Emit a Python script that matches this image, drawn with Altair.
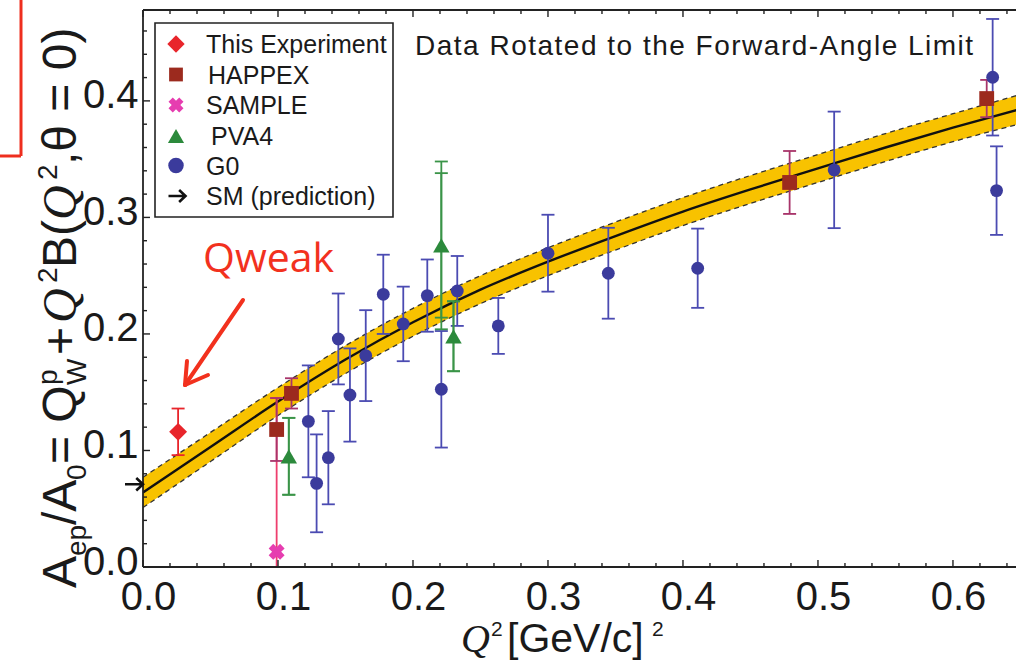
import altair as alt
import pandas as pd

# ---------------- data ----------------
qweak_x = [0.026]
qweak_y = [0.116]
qweak_err = [0.020]

happex_x = [0.099, 0.110, 0.479, 0.625]
happex_y = [0.118, 0.149, 0.330, 0.402]
happex_err = [0.027, 0.013, 0.027, 0.016]

sample_x = [0.099]
sample_y = [0.013]
sample_err = [0.132]

pva4_x = [0.108, 0.221, 0.230]
pva4_y = [0.095, 0.276, 0.198]
pva4_err = [0.033, 0.072, 0.030]
pva4_err_inner = [0.033, 0.062, 0.030]

g0_x = [0.1225, 0.1286, 0.1373, 0.1447, 0.1533, 0.165, 0.178, 0.1928, 0.2106,
        0.221, 0.2328, 0.2632, 0.300, 0.3447, 0.4109, 0.512, 0.6294, 0.6323]
g0_y = [0.125, 0.0718, 0.0938, 0.1957, 0.1476, 0.1814, 0.234, 0.2086, 0.2329,
        0.1525, 0.2369, 0.2069, 0.2693, 0.2521, 0.2564, 0.3408, 0.4203, 0.323]
g0_err = [0.048, 0.042, 0.040, 0.039, 0.040, 0.039, 0.034, 0.032, 0.031,
          0.050, 0.030, 0.024, 0.033, 0.039, 0.034, 0.050, 0.050, 0.038]

fit_x = [0.0, 0.05, 0.1, 0.15, 0.2, 0.25, 0.3, 0.35, 0.4, 0.45, 0.5, 0.55, 0.6, 0.65]
fit_y = [0.064, 0.103, 0.142, 0.178, 0.210, 0.238, 0.262, 0.284, 0.305, 0.324,
         0.342, 0.360, 0.377, 0.393]
fit_err = [0.013, 0.0125, 0.012, 0.012, 0.012, 0.012, 0.012, 0.012, 0.012,
           0.012, 0.012, 0.012, 0.012, 0.0125]

sm_value = [0.0710]

x_ticks = [0.0, 0.1, 0.2, 0.3, 0.4, 0.5, 0.6]
y_ticks = [0.0, 0.1, 0.2, 0.3, 0.4]
x_minor = [0.02, 0.04, 0.06, 0.08, 0.12, 0.14, 0.16, 0.18, 0.22, 0.24, 0.26, 0.28,
           0.32, 0.34, 0.36, 0.38, 0.42, 0.44, 0.46, 0.48, 0.52, 0.54, 0.56, 0.58,
           0.62, 0.64]
y_minor = [0.02, 0.04, 0.06, 0.08, 0.12, 0.14, 0.16, 0.18, 0.22, 0.24, 0.26, 0.28,
           0.32, 0.34, 0.36, 0.38, 0.42, 0.44, 0.46]

legend_labels = ["This Experiment", "HAPPEX", "SAMPLE", "PVA4", "G0", "SM (prediction)"]
plot_title = "Data Rotated to the Forward-Angle Limit"

# ---------------- layout ----------------
W, H = 873, 557
PL, PT = 143, 10
XMAX, YMAX = 0.6467, 0.478
FONT = "Liberation Sans"
SERIF = "Liberation Serif"
INK = "#1a1a1a"

xs = alt.Scale(domain=[0, XMAX], nice=False, zero=False)
ys = alt.Scale(domain=[0, YMAX], nice=False, zero=False)
xaxis = alt.Axis(values=x_ticks, format=".1f", labelFont=FONT, labelFontSize=40,
                 labelColor=INK, labelPadding=10, labelOffset=5, labelFlush=False,
                 labelOverlap=False, domain=False, ticks=False, tickSize=0,
                 grid=False, title=None)
yaxis = alt.Axis(values=y_ticks, format=".1f", labelFont=FONT, labelFontSize=40,
                 labelColor=INK, labelPadding=5, labelOffset=-5, labelFlush=False,
                 labelOverlap=False, domain=False, ticks=False, tickSize=0,
                 grid=False, title=None)


def X(f):
    return alt.X(f, type="quantitative", scale=xs, axis=xaxis)


def Y(f):
    return alt.Y(f, type="quantitative", scale=ys, axis=yaxis)


DUMMY = pd.DataFrame({"d": [0]})


def px(x):
    return alt.value(x - PL)


def py(y):
    return alt.value(y - PT)


layers = []

# ---- fit band ----
fit = pd.DataFrame({"x": fit_x, "y": fit_y,
                    "lo": [a - b for a, b in zip(fit_y, fit_err)],
                    "hi": [a + b for a, b in zip(fit_y, fit_err)]})
layers.append(alt.Chart(fit).mark_area(color="#F8C200", opacity=1, clip=True,
                                        interpolate="monotone")
              .encode(x=X("x"), y=Y("lo"), y2=alt.Y2("hi")))
for f in ["lo", "hi"]:
    layers.append(alt.Chart(fit).mark_line(color="#333333", strokeWidth=1.3,
                                            strokeDash=[5, 4], clip=True,
                                            interpolate="monotone")
                  .encode(x=X("x"), y=Y(f)))
layers.append(alt.Chart(fit).mark_line(color="#111111", strokeWidth=2.4, clip=True,
                                        interpolate="monotone")
              .encode(x=X("x"), y=Y("y")))

CAP = "M -1 0 L 1 0"


def errbars(xv, yv, ev, ecolor, cap=13, sw=1.8):
    df = pd.DataFrame({"x": xv, "lo": [a - b for a, b in zip(yv, ev)],
                       "hi": [a + b for a, b in zip(yv, ev)]})
    out = [alt.Chart(df).mark_rule(color=ecolor, strokeWidth=sw, clip=True)
           .encode(x=X("x"), y=Y("lo"), y2=alt.Y2("hi"))]
    for f in ["lo", "hi"]:
        out.append(alt.Chart(df).mark_point(shape=CAP, size=cap * cap, filled=False,
                                            color=ecolor, strokeWidth=sw, opacity=1,
                                            clip=True)
                   .encode(x=X("x"), y=Y(f)))
    return out


def points(xv, yv, color, shape, size, angle=0):
    df = pd.DataFrame({"x": xv, "y": yv})
    return alt.Chart(df).mark_point(shape=shape, size=size, filled=True, color=color,
                                    opacity=1, angle=angle, clip=True,
                                    strokeWidth=0).encode(x=X("x"), y=Y("y"))


C_QW = "#E8252B"
C_HAP = "#9C2A1E"
C_HAP_E = "#A8346A"
C_SAM = "#E63DB0"
C_SAM_E = "#EE3E6E"
C_PVA = "#2C8A3C"
C_PVA_E = "#3A9448"
C_G0 = "#3B3B9C"
C_G0_E = "#4B4BB2"

layers += errbars(g0_x, g0_y, g0_err, C_G0_E)
layers += errbars(pva4_x, pva4_y, pva4_err, C_PVA_E)
layers += errbars(pva4_x, pva4_y, pva4_err_inner, C_PVA_E)
layers += errbars(sample_x, sample_y, sample_err, C_SAM_E)
layers += errbars(happex_x, happex_y, happex_err, C_HAP_E)
layers += errbars(qweak_x, qweak_y, qweak_err, C_QW)

layers.append(points(g0_x, g0_y, C_G0, "circle", 165))
layers.append(points(pva4_x, pva4_y, C_PVA, "triangle-up", 270))
layers.append(points(sample_x, sample_y, C_SAM, "cross", 260, angle=45))
layers.append(points(happex_x, happex_y, C_HAP, "square", 220))
layers.append(points(qweak_x, qweak_y, C_QW, "diamond", 320))

# ---- frame and inward ticks ----
FR = dict(color="#222222", strokeWidth=1.8)
layers.append(alt.Chart(DUMMY).mark_rule(**FR).encode(
    x=alt.value(0), y=alt.value(0), y2=alt.value(H)))
layers.append(alt.Chart(DUMMY).mark_rule(**FR).encode(
    x=alt.value(0), x2=alt.value(W), y=alt.value(H)))
layers.append(alt.Chart(DUMMY).mark_rule(**FR).encode(
    x=alt.value(0), x2=alt.value(W), y=alt.value(0)))

xt_maj = pd.DataFrame({"v": x_ticks})
xt_min = pd.DataFrame({"v": x_minor})
yt_maj = pd.DataFrame({"v": y_ticks})
yt_min = pd.DataFrame({"v": y_minor})
TK = dict(color="#222222", strokeWidth=1.4)
for df, ln in [(xt_maj, 7), (xt_min, 4)]:
    layers.append(alt.Chart(df).mark_rule(**TK).encode(
        x=X("v"), y=alt.value(H), y2=alt.value(H - ln)))
    layers.append(alt.Chart(df).mark_rule(**TK).encode(
        x=X("v"), y=alt.value(0), y2=alt.value(ln)))
for df, ln in [(yt_maj, 7), (yt_min, 4)]:
    layers.append(alt.Chart(df).mark_rule(**TK).encode(
        y=Y("v"), x=alt.value(0), x2=alt.value(ln)))

# ---- SM arrow on the left axis ----
ARROW = "M -1 0 L 0.95 0 M 0.25 -0.7 L 1 0 L 0.25 0.7"
layers.append(alt.Chart(pd.DataFrame({"v": sm_value})).mark_point(
    shape=ARROW, size=324, filled=False, color="#111111", strokeWidth=2.6,
    opacity=1).encode(x=alt.value(-9), y=Y("v")))

# ---- legend ----
layers.append(alt.Chart(DUMMY).mark_rect(fill="white", stroke="#222222",
                                         strokeWidth=1.6).encode(
    x=px(155), x2=px(393), y=py(23), y2=py(217)))
leg_y = [44, 74.5, 105, 136, 165.5, 196]
leg_marks = [(C_QW, "diamond", 300, 0), (C_HAP, "square", 190, 0),
             (C_SAM, "cross", 230, 45), (C_PVA, "triangle-up", 260, 0),
             (C_G0, "circle", 240, 0)]
for (c, s, sz, ang), yy in zip(leg_marks, leg_y):
    layers.append(alt.Chart(DUMMY).mark_point(shape=s, size=sz, filled=True, color=c,
                                              opacity=1, angle=ang, strokeWidth=0)
                  .encode(x=px(176), y=py(yy)))
layers.append(alt.Chart(DUMMY).mark_point(shape=ARROW, size=289, filled=False,
                                          color="#111111", strokeWidth=2.6, opacity=1)
              .encode(x=px(177), y=py(leg_y[5])))
leg_tx = [206, 208, 206, 211, 206, 206]
for lab, xx, yy in zip(legend_labels, leg_tx, leg_y):
    layers.append(alt.Chart(DUMMY).mark_text(text=lab, align="left", baseline="middle",
                                             font=FONT, fontSize=25, color=INK)
                  .encode(x=px(xx), y=py(yy + 1)))

# ---- in-plot title, letter-spaced like the original ----
CW = {"D": .722, "a": .556, "t": .278, " ": .278, "R": .722, "o": .556, "e": .556,
      "d": .556, "h": .556, "F": .611, "r": .333, "w": .722, "-": .333, "A": .667,
      "n": .556, "g": .556, "l": .222, "L": .556, "i": .222, "m": .833}
TSIZE, TSPACE = 28, 1.5
tx = 415.0
for ch in plot_title:
    if ch != " ":
        layers.append(alt.Chart(DUMMY).mark_text(
            text=ch, align="left", baseline="middle", font=FONT, fontSize=TSIZE,
            color=INK).encode(x=px(tx), y=py(47)))
    tx += CW[ch] * TSIZE + TSPACE

# ---- Qweak annotation ----
RED = "#F2311E"
layers.append(alt.Chart(DUMMY).mark_text(
    text="Qweak", align="left", baseline="alphabetic", font="Open Sans",
    fontSize=41, color=RED).encode(x=px(203), y=py(272)))
AR = dict(color=RED, strokeWidth=4, strokeCap="round")
for (x1, y1, x2, y2) in [(243, 300, 185, 385), (185, 385, 187, 361), (185, 385, 208, 375)]:
    layers.append(alt.Chart(DUMMY).mark_rule(**AR).encode(
        x=px(x1), y=py(y1), x2=px(x2), y2=py(y2)))

# ---- red box fragment in the top-left corner ----
RB = dict(color="#EE2E1E", strokeWidth=3)
layers.append(alt.Chart(DUMMY).mark_rule(**RB).encode(
    x=px(21), y=py(0), y2=py(156)))
layers.append(alt.Chart(DUMMY).mark_rule(**RB).encode(
    x=px(0), x2=px(21), y=py(156)))


# ---- axis titles built from pieces (sub/superscripts) ----
def txt(t, x, y, size, angle=0, font=FONT, style="normal"):
    kw = dict(text=t, align="left", baseline="alphabetic", font=font, fontSize=size,
              color=INK, fontStyle=style)
    if angle:
        kw["angle"] = angle
    return alt.Chart(DUMMY).mark_text(**kw).encode(x=px(x), y=py(y))


# x title
layers.append(txt("Q", 461, 652, 40, font=SERIF, style="italic"))
layers.append(txt("2", 491, 636, 21))
layers.append(txt("[GeV/c]", 507, 652, 41))
layers.append(txt("2", 652, 636, 21))

# y title (rotated, reads upward); (text, baseline x, start y, size, font, style)
F, f = 48, 28
BX, SUBX, SUPX = 76, 86, 57
ytitle = [
    ("A", BX, 588, F, FONT, "normal"),
    ("ep", SUBX, 556, f, FONT, "normal"),
    ("/A", BX, 525, F, FONT, "normal"),
    ("0", SUBX, 480, f, FONT, "normal"),
    ("= Q", BX, 464, F, FONT, "normal"),
    ("W", SUBX, 385, f, FONT, "normal"),
    ("p", SUPX, 385, f, FONT, "normal"),
    ("+", BX, 355, F, FONT, "normal"),
    ("Q", BX, 323, F, SERIF, "italic"),
    ("2", SUPX, 283, f, FONT, "normal"),
    ("B(", BX, 268, F, FONT, "normal"),
    ("Q", BX, 220, F, SERIF, "italic"),
    ("2", SUPX, 180, f, FONT, "normal"),
    (",\u03b8 = 0)", BX, 165, F, FONT, "normal"),
]
for t, x, y, s, fo, st in ytitle:
    layers.append(txt(t, x, y, s, angle=270, font=fo, style=st))

chart = alt.layer(*layers).properties(
    width=W, height=H,
    padding={"left": PL, "top": PT, "right": 0, "bottom": 664 - H - PT},
    autosize=alt.AutoSizeParams(type="none"),
    background="white",
).configure_view(stroke=None)

chart.save("out.html", embed_options={"renderer": "svg", "actions": False})
